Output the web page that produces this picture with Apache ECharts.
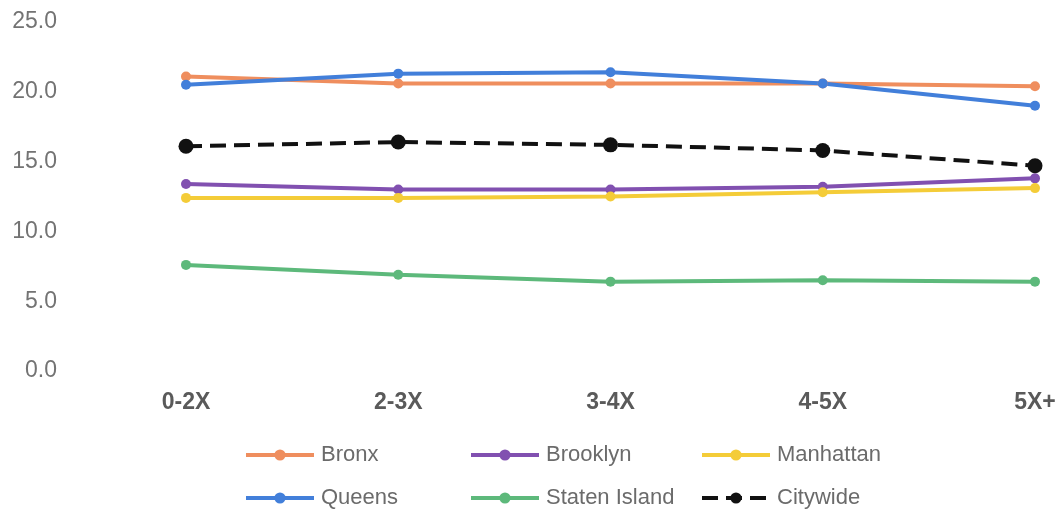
<!DOCTYPE html>
<html>
<head>
<meta charset="utf-8">
<script src="https://cdn.jsdelivr.net/npm/echarts@6/dist/echarts.min.js"></script>
<style>
  html, body { margin: 0; padding: 0; background: #fff; }
  #chart { width: 1060px; height: 510px; }
</style>
</head>
<body>
<div id="chart"></div>
<script>
// Income-multiple buckets along the x axis
const categories = ['0-2X', '2-3X', '3-4X', '4-5X', '5X+'];

// Borough values per bucket
const bronx        = [21.1, 20.6, 20.6, 20.6, 20.4];
const brooklyn     = [13.4, 13.0, 13.0, 13.2, 13.8];
const manhattan    = [12.4, 12.4, 12.5, 12.8, 13.1];
const queens       = [20.5, 21.3, 21.4, 20.6, 19.0];
const statenIsland = [7.6, 6.9, 6.4, 6.5, 6.4];
const citywide     = [16.1, 16.4, 16.2, 15.8, 14.7];

// Y axis range
const yMin = 0, yMax = 25, yStep = 5;

const FONT = '"Liberation Sans", Arial, sans-serif';

function boroughLine(name, data, color) {
  return {
    name, type: 'line', data,
    symbol: 'circle', symbolSize: 10,
    lineStyle: { color, width: 4 },
    itemStyle: { color },
    emphasis: { disabled: true },
    z: 2
  };
}

const series = [
  boroughLine('Bronx', bronx, '#EF8E5E'),
  boroughLine('Brooklyn', brooklyn, '#8150B0'),
  boroughLine('Manhattan', manhattan, '#F4CC38'),
  boroughLine('Queens', queens, '#427FDA'),
  boroughLine('Staten Island', statenIsland, '#5DB97B'),
  {
    name: 'Citywide', type: 'line', data: citywide,
    symbol: 'circle', symbolSize: 15,
    lineStyle: { color: '#111', width: 4, type: [16, 8] },
    itemStyle: { color: '#111' },
    emphasis: { disabled: true },
    z: 3
  }
];

// One legend entry per slot: three columns, two rows
function legendItem(name, left, top) {
  return {
    left, top, padding: 0,
    data: [name],
    itemWidth: 68, itemHeight: 14, itemGap: 0,
    lineStyle: { width: 4 },
    textStyle: { fontFamily: FONT, fontSize: 22, color: '#6b6b6b', padding: [0, 0, 0, 2] },
    selectedMode: false
  };
}

const row1 = 444, row2 = 487;

const chart = echarts.init(document.getElementById('chart'), null, { renderer: 'canvas' });
chart.setOption({
  animation: false,
  backgroundColor: '#fff',
  grid: { left: 186, right: 25, top: 22, bottom: 139 },
  xAxis: {
    type: 'category', data: categories, boundaryGap: false,
    axisLine: { show: false }, axisTick: { show: false },
    axisLabel: { fontFamily: FONT, fontSize: 23, fontWeight: 'bold', color: '#5a5a5a', margin: 20 },
    splitLine: { show: false }
  },
  yAxis: {
    type: 'value', min: yMin, max: yMax, interval: yStep,
    axisLine: { show: false }, axisTick: { show: false },
    axisLabel: {
      fontFamily: FONT, fontSize: 23, color: '#737373', margin: 129,
      formatter: v => v.toFixed(1)
    },
    splitLine: { show: false }
  },
  legend: [
    legendItem('Bronx', 244, row1),
    legendItem('Queens', 244, row2),
    legendItem('Brooklyn', 469, row1),
    legendItem('Staten Island', 469, row2),
    legendItem('Manhattan', 700, row1),
    legendItem('Citywide', 700, row2)
  ],
  series
});
</script>
</body>
</html>
